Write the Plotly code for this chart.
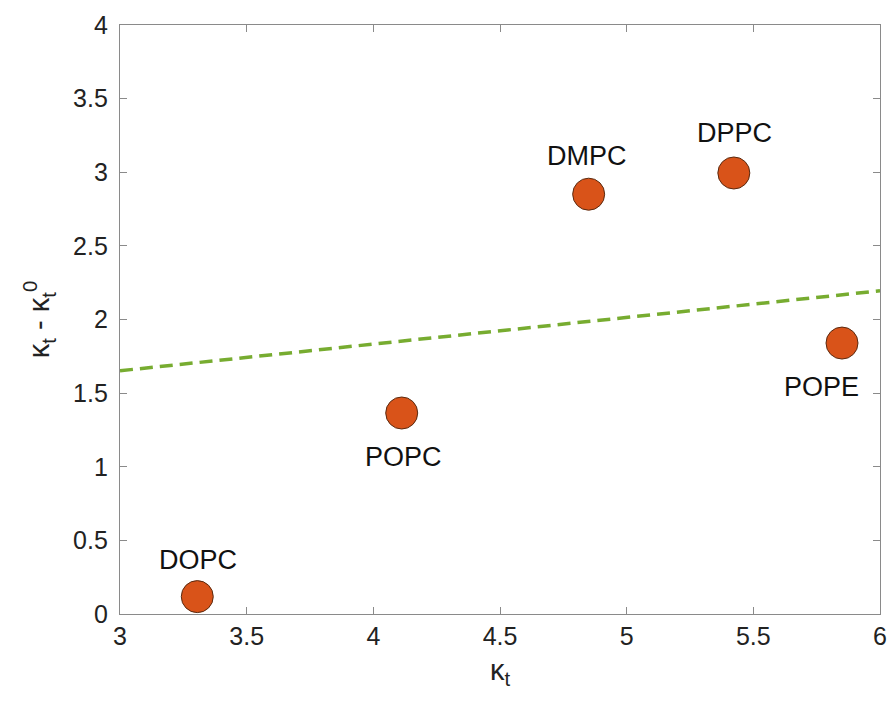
import plotly.graph_objects as go

# Data
lipids = ["DOPC", "POPC", "DMPC", "DPPC", "POPE"]
kappa_t = [3.305, 4.112, 4.85, 5.423, 5.85]
delta_kappa = [0.118, 1.365, 2.851, 2.995, 1.84]

fit_x = [3.0, 6.0]
fit_y = [1.652, 2.195]

x_ticks = [3, 3.5, 4, 4.5, 5, 5.5, 6]
y_ticks = [0, 0.5, 1, 1.5, 2, 2.5, 3, 3.5, 4]

# label offsets (pixels): (xshift, yshift)
label_offsets = {
    "DOPC": (1, 37),
    "POPC": (2, -44),
    "DMPC": (-2, 38),
    "DPPC": (1, 40),
    "POPE": (-21, -44),
}

FONT = "Liberation Sans, Arial, Helvetica, sans-serif"
AXC = "#8a8a8a"

fig = go.Figure()
fig.add_trace(go.Scatter(
    x=fit_x, y=fit_y, mode="lines",
    line=dict(color="#77AC30", width=3.5, dash="13px,7px"),
    showlegend=False, hoverinfo="skip"))
fig.add_trace(go.Scatter(
    x=kappa_t, y=delta_kappa, mode="markers",
    marker=dict(size=32, color="#D95319", line=dict(color="#5a2a10", width=1)),
    showlegend=False))

for name, xv, yv in zip(lipids, kappa_t, delta_kappa):
    dx, dy = label_offsets[name]
    fig.add_annotation(x=xv, y=yv, xref="x", yref="y", text=name,
                       showarrow=False, xshift=dx, yshift=dy,
                       font=dict(family=FONT, size=27, color="#111111"))

axis_common = dict(
    showgrid=False, zeroline=False, showline=True, linecolor=AXC, linewidth=1.3,
    mirror="ticks", ticks="inside", ticklen=7, tickcolor=AXC, tickwidth=1.2,
    tickfont=dict(family=FONT, size=25, color="#222222"),
    automargin=False,
)

fig.update_xaxes(range=[3, 6], tickvals=x_ticks,
                 ticktext=[f"{v:g}" for v in x_ticks],
                 title=dict(text="κ<sub>t</sub>", font=dict(family=FONT, size=29, color="#222222"), standoff=10),
                 **axis_common)
fig.update_yaxes(range=[0, 4], tickvals=y_ticks,
                 ticktext=[f"{v:g}" for v in y_ticks],
                 title=dict(text="κ<sub>t</sub> - κ<sub>t</sub><sup>0</sup>", font=dict(family=FONT, size=29, color="#222222"), standoff=14),
                 ticklabelstandoff=6,
                 **axis_common)

# page body has an 8px margin; compensate so the plot lands where the reference has it
fig.update_layout(
    width=879, height=691,
    margin=dict(l=112, r=7, t=17, b=85),
    plot_bgcolor="white", paper_bgcolor="white",
)

fig.write_html("out.html")
